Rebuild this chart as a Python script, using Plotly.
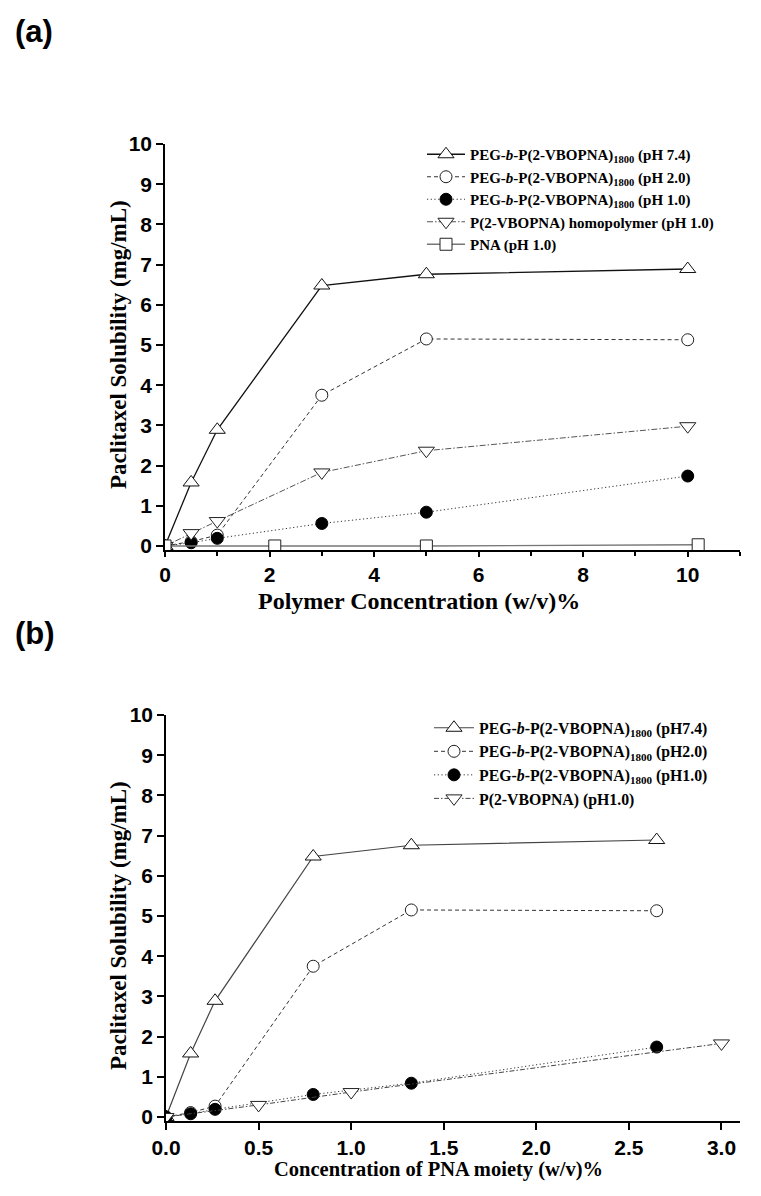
import plotly.graph_objects as go

W, H = 761, 1196
OFF = 8  # page body margin of the html page

# ---------------- data (a) ----------------
conc_a = [0, 0.5, 1, 3, 5, 10]
peg74_a = [0, 1.58, 2.89, 6.48, 6.76, 6.89]
peg20_a = [0, 0.11, 0.27, 3.75, 5.15, 5.13]
peg10_a = [0, 0.08, 0.19, 0.56, 0.84, 1.74]
homo_a = [0, 0.32, 0.62, 1.83, 2.37, 2.98]
pna_x = [0, 2.1, 5, 10.2]
pna_y = [0, 0, 0, 0.03]

# ---------------- data (b) ----------------
pna_moiety_b = [0, 0.133, 0.265, 0.795, 1.325, 2.65]
peg74_b = [0, 1.58, 2.89, 6.48, 6.76, 6.89]
peg20_b = [0, 0.11, 0.27, 3.75, 5.15, 5.13]
peg10_b = [0, 0.08, 0.19, 0.56, 0.84, 1.74]
homo_b_x = [0, 0.5, 1.0, 3.0]
homo_b_y = [0, 0.30, 0.62, 1.83]

names_a = [
    "PEG-<i>b</i>-P(2-VBOPNA)<sub>1800</sub> (pH 7.4)",
    "PEG-<i>b</i>-P(2-VBOPNA)<sub>1800</sub> (pH 2.0)",
    "PEG-<i>b</i>-P(2-VBOPNA)<sub>1800</sub> (pH 1.0)",
    "P(2-VBOPNA) homopolymer (pH 1.0)",
    "PNA (pH 1.0)",
]
names_b = [
    "PEG-<i>b</i>-P(2-VBOPNA)<sub>1800</sub> (pH7.4)",
    "PEG-<i>b</i>-P(2-VBOPNA)<sub>1800</sub> (pH2.0)",
    "PEG-<i>b</i>-P(2-VBOPNA)<sub>1800</sub> (pH1.0)",
    "P(2-VBOPNA) (pH1.0)",
]


def px(x):
    return (x - OFF) / W


def py(y):
    return 1 - (y - OFF) / H


styles = [
    dict(line=dict(color="#111", width=1.3, dash="solid"),
         marker=dict(symbol="triangle-up", size=14, color="white", line=dict(color="#111", width=1))),
    dict(line=dict(color="#333", width=1, dash="4px,3px"),
         marker=dict(symbol="circle", size=12, color="white", line=dict(color="#222", width=1))),
    dict(line=dict(color="#333", width=1, dash="1.2px,2.5px"),
         marker=dict(symbol="circle", size=12, color="black", line=dict(color="black", width=1))),
    dict(line=dict(color="#555", width=1, dash="6px,2px,1.5px,2px"),
         marker=dict(symbol="triangle-down", size=14, color="white", line=dict(color="#222", width=1))),
    dict(line=dict(color="#777", width=1.3, dash="solid"),
         marker=dict(symbol="square", size=12, color="white", line=dict(color="#222", width=1))),
]

fig = go.Figure()

series_a = [(conc_a, peg74_a), (conc_a, peg20_a), (conc_a, peg10_a), (conc_a, homo_a), (pna_x, pna_y)]
for i, (xs, ys) in enumerate(series_a):
    fig.add_trace(go.Scatter(x=xs, y=ys, mode="lines+markers", name=names_a[i],
                             xaxis="x", yaxis="y", legend="legend",
                             legendgroup="a%d" % i, **styles[i]))

styles_b = [dict(s) for s in styles[:4]]
styles_b[0] = dict(line=dict(color="#444", width=1.2, dash="solid"), marker=styles[0]["marker"])
styles_b[3] = dict(line=dict(color="#444", width=1, dash="5px,2px,1.5px,2px"), marker=styles[3]["marker"])
series_b = [(pna_moiety_b, peg74_b), (pna_moiety_b, peg20_b), (pna_moiety_b, peg10_b), (homo_b_x, homo_b_y)]
for i, (xs, ys) in enumerate(series_b):
    fig.add_trace(go.Scatter(x=xs, y=ys, mode="lines+markers", name=names_b[i],
                             xaxis="x2", yaxis="y2", legend="legend2",
                             legendgroup="b%d" % i, **styles_b[i]))

tickfont = dict(family="Liberation Sans", size=21, color="black", weight="bold")
common_axis = dict(showline=True, linecolor="black", linewidth=1.5, ticks="outside",
                   ticklen=7, tickwidth=1.5, tickcolor="black", showgrid=False,
                   zeroline=False, tickfont=tickfont, mirror=False, automargin=False)

legfont = dict(family="Liberation Serif", size=15, color="black", weight="bold")

fig.update_layout(
    width=W, height=H,
    margin=dict(l=0, r=0, t=0, b=0, pad=0, autoexpand=False),
    paper_bgcolor="white", plot_bgcolor="white",
    xaxis=dict(domain=[px(165), px(740)], range=[0, 11], anchor="y",
               tickvals=[0, 2, 4, 6, 8, 10],
               minor=dict(tickvals=[1, 3, 5, 7, 9, 11], ticks="outside", ticklen=4,
                          tickwidth=1.5, tickcolor="black"),
               **dict(common_axis, ticklen=5)),
    yaxis=dict(domain=[py(550), py(144)], range=[-0.1, 10], anchor="x",
               tickvals=list(range(0, 11)), **common_axis),
    xaxis2=dict(domain=[px(166), px(740)], range=[0, 3.1], anchor="y2",
                tickvals=[0, 0.5, 1, 1.5, 2, 2.5, 3],
                ticktext=["0.0", "0.5", "1.0", "1.5", "2.0", "2.5", "3.0"],
                **common_axis),
    yaxis2=dict(domain=[py(1121), py(715)], range=[-0.1, 10], anchor="x2",
                tickvals=list(range(0, 11)), **common_axis),
    legend=dict(x=px(422), y=py(138), xanchor="left", yanchor="top",
                bgcolor="rgba(0,0,0,0)", font=legfont, itemwidth=38,
                tracegroupgap=2, traceorder="normal"),
    legend2=dict(x=px(429), y=py(711), xanchor="left", yanchor="top",
                 bgcolor="rgba(0,0,0,0)", font=dict(legfont, size=15.8), itemwidth=40,
                 tracegroupgap=12, traceorder="normal"),
    showlegend=True,
)

titlefont = dict(family="Liberation Serif", size=23, color="black", weight="bold")
annos = [
    dict(text="(a)", x=px(34), y=py(31), font=dict(family="Liberation Sans", size=31, color="black", weight="bold")),
    dict(text="(b)", x=px(35), y=py(633), font=dict(family="Liberation Sans", size=31, color="black", weight="bold")),
    dict(text="Polymer Concentration (w/v)%", x=px(419), y=py(601), font=dict(titlefont, size=24)),
    dict(text="Concentration of PNA moiety (w/v)%", x=px(438), y=py(1169), font=dict(titlefont, size=20.5)),
    dict(text="Paclitaxel Solubility (mg/mL)", x=px(118), y=py(345), textangle=-90, font=titlefont),
    dict(text="Paclitaxel Solubility (mg/mL)", x=px(118), y=py(926), textangle=-90, font=titlefont),
]
for a in annos:
    fig.add_annotation(xref="paper", yref="paper", showarrow=False,
                       xanchor="center", yanchor="middle", **a)

fig.write_html("out.html")
